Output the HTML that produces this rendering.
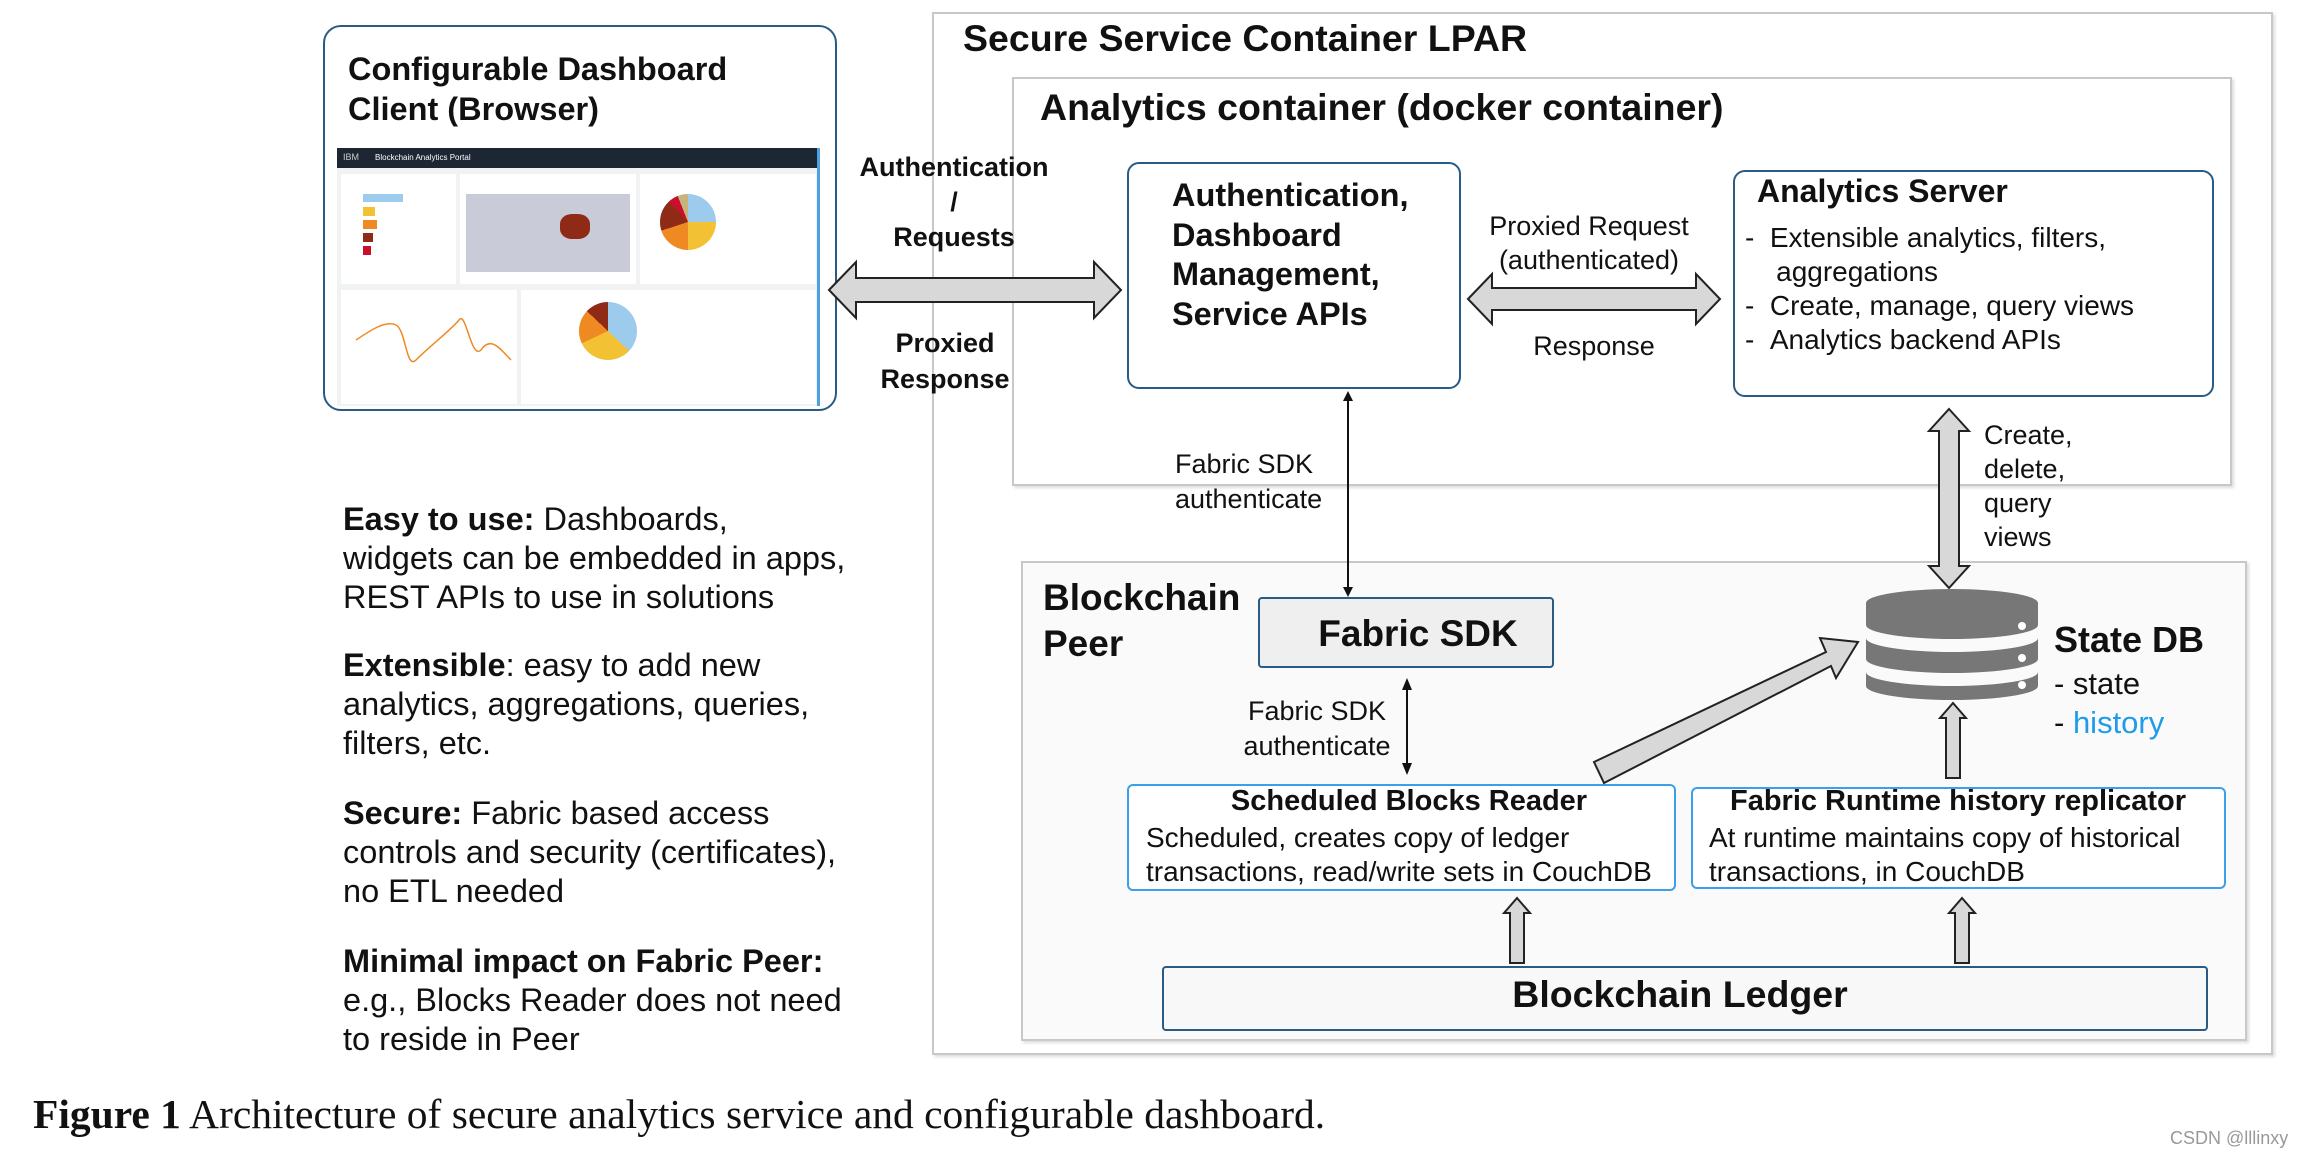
<!DOCTYPE html>
<html><head><meta charset="utf-8"><style>
body{margin:0;width:2304px;height:1154px;background:#fff;position:relative;overflow:hidden;font-family:"Liberation Sans",Arial,sans-serif;color:#111}
.b{position:absolute;box-sizing:border-box}
.t{position:absolute;white-space:nowrap;line-height:1}
.bd{font-weight:bold}
.c{transform:translateX(-50%)}
</style></head><body>
<div class="b" style="left:932px;top:12px;width:1341px;height:1043px;border:2px solid #c8c8c8;box-shadow:2px 2px 3px #ddd"></div>
<div class="b" style="left:1012px;top:77px;width:1220px;height:409px;border:2px solid #c8c8c8;box-shadow:2px 2px 3px #ddd"></div>
<div class="b" style="left:1021px;top:561px;width:1226px;height:480px;border:2px solid #c8c8c8;background:#fafafa;box-shadow:2px 2px 3px #ddd"></div>
<div class="b" style="left:323px;top:25px;width:514px;height:386px;border:2px solid #2a5b84;border-radius:18px"></div>
<div class="b" style="left:1127px;top:162px;width:334px;height:227px;border:2px solid #2a5b84;border-radius:12px"></div>
<div class="b" style="left:1733px;top:170px;width:481px;height:227px;border:2px solid #2a5b84;border-radius:12px"></div>
<div class="b" style="left:1258px;top:597px;width:296px;height:71px;border:2px solid #2a5b84;border-radius:4px;background:#efefef"></div>
<div class="b" style="left:1127px;top:784px;width:549px;height:107px;border:2px solid #3aa0e8;border-radius:6px;background:#fff"></div>
<div class="b" style="left:1691px;top:787px;width:535px;height:102px;border:2px solid #3aa0e8;border-radius:6px;background:#fff"></div>
<div class="b" style="left:1162px;top:966px;width:1046px;height:65px;border:2px solid #2a5b84;border-radius:4px;background:#f8f8f8"></div>

<div class="b" style="left:337px;top:148px;width:483px;height:258px;background:#f0f2f4;border-right:3px solid #4aa3e0">
 <div class="b" style="left:0;top:0;width:480px;height:20px;background:#1c2733"><span class="t" style="left:6px;top:5px;color:#ccc;font-size:9px">IBM</span><span class="t" style="left:38px;top:6px;color:#fff;font-size:8px">Blockchain Analytics Portal</span></div>
 <div class="b" style="left:4px;top:26px;width:115px;height:110px;background:#fff">
  <div class="b" style="left:22px;top:20px;width:40px;height:8px;background:#9dcbee"></div>
  <div class="b" style="left:22px;top:33px;width:12px;height:9px;background:#f3c234"></div>
  <div class="b" style="left:22px;top:46px;width:14px;height:9px;background:#ef8a22"></div>
  <div class="b" style="left:22px;top:59px;width:10px;height:9px;background:#8f2a16"></div>
  <div class="b" style="left:22px;top:72px;width:8px;height:9px;background:#c8102e"></div></div>
 <div class="b" style="left:123px;top:26px;width:176px;height:110px;background:#fff"><div class="b" style="left:6px;top:20px;width:164px;height:78px;background:#c9ccd8"></div><div class="b" style="left:100px;top:40px;width:30px;height:25px;background:#8f2a16;border-radius:40%"></div></div>
 <div class="b" style="left:303px;top:26px;width:176px;height:110px;background:#fff"><div class="b" style="left:20px;top:20px;width:56px;height:56px;border-radius:50%;background:conic-gradient(#9dcbee 0 25%,#f3c234 25% 50%,#ef8a22 50% 70%,#8f2a16 70% 88%,#c8102e 88% 94%,#c8b47a 94%)"></div></div>
 <div class="b" style="left:4px;top:142px;width:176px;height:114px;background:#fff">
  <svg width="176" height="114"><path d="M15 50 C30 40,45 30,55 35 C65 40,65 80,75 70 C90 55,110 40,118 30 C125 20,130 70,140 60 C150 45,160 60,170 70" fill="none" stroke="#ef8a22" stroke-width="1.5"/></svg></div>
 <div class="b" style="left:184px;top:142px;width:295px;height:114px;background:#fff"><div class="b" style="left:58px;top:12px;width:58px;height:58px;border-radius:50%;background:conic-gradient(#9dcbee 0 37%,#f3c234 37% 68%,#ef8a22 68% 87%,#8f2a16 87%)"></div></div>
</div>

<div class="t bd" style="left:348px;top:53px;font-size:32.5px">Configurable Dashboard</div>
<div class="t bd" style="left:348px;top:93px;font-size:32.5px">Client (Browser)</div>
<div class="t bd" style="left:963px;top:20px;font-size:37.5px">Secure Service Container LPAR</div>
<div class="t bd" style="left:1040px;top:89px;font-size:37.5px">Analytics container (docker container)</div>
<div class="t bd" style="left:1172px;top:176px;font-size:32.5px;line-height:39.5px">Authentication,<br>Dashboard<br>Management,<br>Service APIs</div>
<div class="t bd" style="left:1757px;top:175px;font-size:32px">Analytics Server</div>
<div class="t" style="left:1745px;top:221px;font-size:28px;line-height:34px">-&nbsp;&nbsp;Extensible analytics, filters,<br>&nbsp;&nbsp;&nbsp;&nbsp;aggregations<br>-&nbsp;&nbsp;Create, manage, query views<br>-&nbsp;&nbsp;Analytics backend APIs</div>
<div class="t bd c" style="left:954px;top:150px;font-size:27px;text-align:center;line-height:35px">Authentication<br>/<br>Requests</div>
<div class="t bd c" style="left:945px;top:325px;font-size:27px;text-align:center;line-height:36px">Proxied<br>Response</div>
<div class="t c" style="left:1589px;top:209px;font-size:27px;text-align:center;line-height:34px">Proxied Request<br>(authenticated)</div>
<div class="t c" style="left:1594px;top:333px;font-size:27px">Response</div>
<div class="t" style="left:1175px;top:447px;font-size:27px;line-height:35px">Fabric SDK<br>authenticate</div>
<div class="t" style="left:1984px;top:418px;font-size:27px;line-height:34px">Create,<br>delete,<br>query<br>views</div>
<div class="t bd" style="left:1043px;top:575px;font-size:37px;line-height:46px">Blockchain<br>Peer</div>
<div class="t bd c" style="left:1418px;top:615px;font-size:37px">Fabric SDK</div>
<div class="t c" style="left:1317px;top:694px;font-size:27px;text-align:center;line-height:35px">Fabric SDK<br>authenticate</div>
<div class="t bd" style="left:2054px;top:622px;font-size:36px">State DB</div>
<div class="t" style="left:2054px;top:668px;font-size:31px">- state</div>
<div class="t" style="left:2054px;top:707px;font-size:31px">- <span style="color:#1e9be9">history</span></div>
<div class="t bd c" style="left:1409px;top:787px;font-size:29px">Scheduled Blocks Reader</div>
<div class="t" style="left:1146px;top:821px;font-size:28px;line-height:34px">Scheduled, creates copy of ledger<br>transactions, read/write sets in CouchDB</div>
<div class="t bd c" style="left:1958px;top:787px;font-size:29px">Fabric Runtime history replicator</div>
<div class="t" style="left:1709px;top:821px;font-size:28px;line-height:34px">At runtime maintains copy of historical<br>transactions, in CouchDB</div>
<div class="t bd c" style="left:1680px;top:976px;font-size:37.5px">Blockchain Ledger</div>

<div class="t" style="left:343px;top:500px;font-size:32.5px;line-height:39px"><b>Easy to use:</b> Dashboards,<br>widgets can be embedded in apps,<br>REST APIs to use in solutions</div>
<div class="t" style="left:343px;top:646px;font-size:32.5px;line-height:39px"><b>Extensible</b>: easy to add new<br>analytics, aggregations, queries,<br>filters, etc.</div>
<div class="t" style="left:343px;top:794px;font-size:32.5px;line-height:39px"><b>Secure:</b> Fabric based access<br>controls and security (certificates),<br>no ETL needed</div>
<div class="t" style="left:343px;top:942px;font-size:32.5px;line-height:39px"><b>Minimal impact on Fabric Peer:</b><br>e.g., Blocks Reader does not need<br>to reside in Peer</div>

<div class="t" style="left:33px;top:1094px;font-size:41.5px;font-family:'Liberation Serif',serif"><b>Figure 1</b> Architecture of secure analytics service and configurable dashboard.</div>
<div class="t" style="left:2170px;top:1129px;font-size:18px;color:#999">CSDN @lllinxy</div>

<svg class="b" style="left:0;top:0" width="2304" height="1154">
<g fill="#d8d8d8" stroke="#222" stroke-width="2">
<path d="M829 290 L856 262 L856 278 L1094 278 L1094 262 L1121 290 L1094 318 L1094 302 L856 302 L856 318 Z"/>
<path d="M1468 299 L1492 274 L1492 288 L1696 288 L1696 274 L1720 299 L1696 324 L1696 310 L1492 310 L1492 324 Z"/>
<path d="M1949 409 L1969 431 L1959 431 L1959 566 L1969 566 L1949 588 L1929 566 L1939 566 L1939 431 L1929 431 Z"/>
<path d="M1594 762 L1826 652 L1820 638 L1858 642 L1836 678 L1831 666 L1604 783 Z"/>
<path d="M1953 703 L1966 718 L1960 718 L1960 778 L1946 778 L1946 718 L1940 718 Z"/>
<path d="M1517 898 L1530 913 L1524 913 L1524 963 L1510 963 L1510 913 L1504 913 Z"/>
<path d="M1962 898 L1975 913 L1969 913 L1969 963 L1955 963 L1955 913 L1949 913 Z"/>
</g>
<line x1="1348" y1="398" x2="1348" y2="588" stroke="#111" stroke-width="2"/>
<path d="M1343 401 L1348 391 L1353 401z M1343 587 L1348 597 L1353 587z" fill="#111"/>
<line x1="1407" y1="688" x2="1407" y2="766" stroke="#111" stroke-width="2"/>
<path d="M1402 690 L1407 678 L1412 690z M1402 763 L1407 775 L1412 763z" fill="#111"/>
<g fill="#777">
<path d="M1866 603 A86 14 0 0 1 2038 603 L2038 625 A86 14 0 0 1 1866 625 Z"/>
<path d="M1866 638 A86 14 0 0 0 2038 638 L2038 659 A86 14 0 0 1 1866 659 Z"/>
<path d="M1866 672 A86 14 0 0 0 2038 672 L2038 686 A86 14 0 0 1 1866 686 Z"/>
</g>
<g fill="#fff"><circle cx="2022" cy="626" r="4"/><circle cx="2022" cy="658" r="4"/><circle cx="2022" cy="685" r="4"/></g>
</svg>
</body></html>
